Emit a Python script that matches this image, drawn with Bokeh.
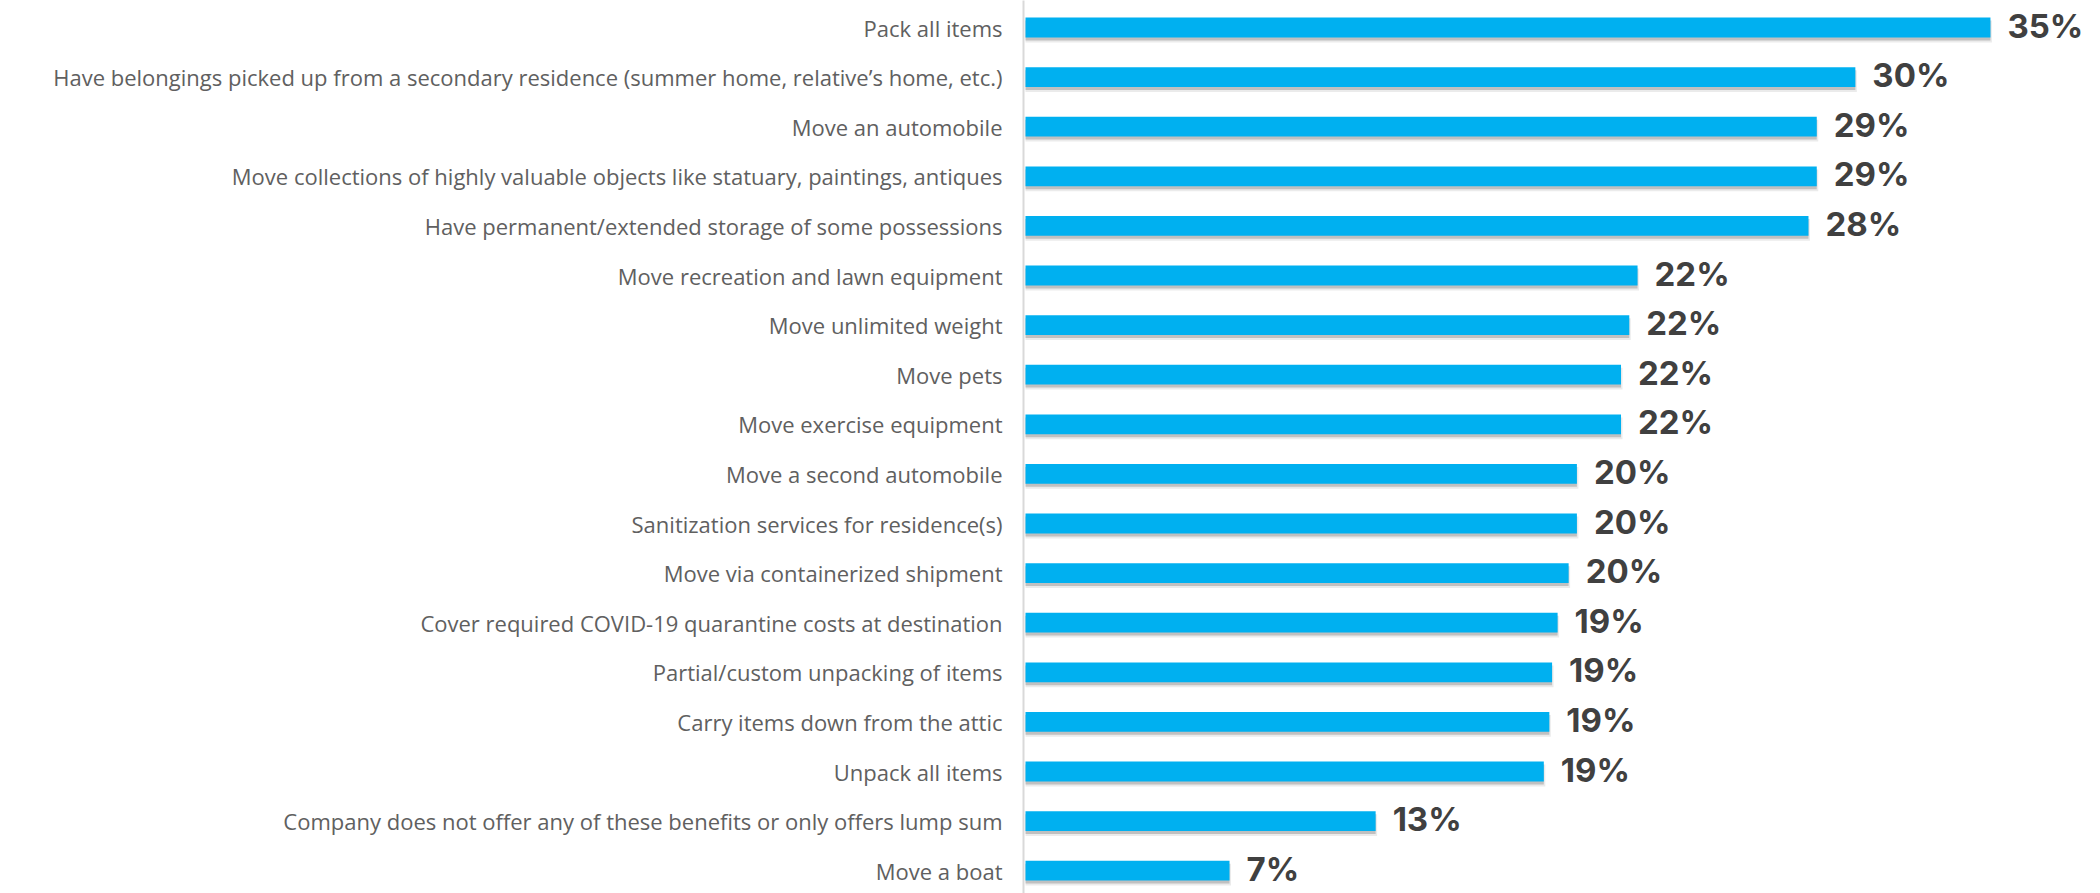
from bokeh.plotting import figure
from bokeh.models import ColumnDataSource, FixedTicker, Range1d
from bokeh.core.properties import value
from bokeh.embed import file_html
from bokeh.resources import INLINE

categories = [
    "Pack all items",
    "Have belongings picked up from a secondary residence (summer home, relative\u2019s home, etc.)",
    "Move an automobile",
    "Move collections of highly valuable objects like statuary, paintings, antiques",
    "Have permanent/extended storage of some possessions",
    "Move recreation and lawn equipment",
    "Move unlimited weight",
    "Move pets",
    "Move exercise equipment",
    "Move a second automobile",
    "Sanitization services for residence(s)",
    "Move via containerized shipment",
    "Cover required COVID-19 quarantine costs at destination",
    "Partial/custom unpacking of items",
    "Carry items down from the attic",
    "Unpack all items",
    "Company does not offer any of these benefits or only offers lump sum",
    "Move a boat",
]
values = [35.0, 30.1, 28.7, 28.7, 28.4, 22.2, 21.9, 21.6, 21.6, 20.0, 20.0,
          19.7, 19.3, 19.1, 19.0, 18.8, 12.7, 7.4]

n = len(categories)
ys = [n - 1 - i for i in range(n)]
labels = [f"{round(v)}%" for v in values]

ROW_PX = 49.6
X_PX = 27.57
W, H = 2100, 893
LEFT = 1023

src = ColumnDataSource(dict(y=ys, v=values, label=labels,
                            ys1=[y - 3.0 / ROW_PX for y in ys],
                            ys2=[y - 4.0 / ROW_PX for y in ys],
                            vs=[v + 1.5 / X_PX for v in values]))

x_start = -2.0 / X_PX
x_end = x_start + (W - LEFT) / X_PX
y_end = (n - 1) + 27.0 / ROW_PX
y_start = y_end - H / ROW_PX

p = figure(width=W, height=H, output_backend="svg", toolbar_location=None,
           x_range=Range1d(x_start, x_end), y_range=Range1d(y_start, y_end),
           x_axis_location=None, min_border_left=LEFT, min_border_right=0,
           min_border_top=0, min_border_bottom=0)
p.outline_line_color = None
p.xgrid.visible = False
p.ygrid.visible = False
p.background_fill_color = "white"
p.border_fill_color = "white"

# soft shadow
p.hbar(y="ys2", left=0, right="vs", height=0.44, source=src,
       fill_color="#000000", fill_alpha=0.08, line_color=None)
p.hbar(y="ys1", left=0, right="v", height=0.40, source=src,
       fill_color="#000000", fill_alpha=0.18, line_color=None)
# bars
p.hbar(y="y", left=0, right="v", height=0.40, source=src,
       fill_color="#00B0F0", line_color=None)

p.text(x="v", y="y", text="label", source=src, x_offset=17, y_offset=-2,
       text_baseline="middle", text_align="left",
       text_font=value("Inter"), text_font_style="bold",
       text_font_size="33px", text_color="#404040")

ax = p.yaxis[0]
ax.ticker = FixedTicker(ticks=ys)
ax.major_label_overrides = {y: c for y, c in zip(ys, categories)}
ax.major_tick_line_color = None
ax.minor_tick_line_color = None
ax.major_tick_out = 0
ax.major_tick_in = 0
ax.major_label_standoff = 21
ax.axis_line_color = "#d9d9d9"
ax.axis_line_width = 2
ax.major_label_text_font = "Open Sans"
ax.major_label_text_font_size = "22px"
ax.major_label_text_color = "#606060"

open("out.html", "w").write(file_html(p, INLINE))
